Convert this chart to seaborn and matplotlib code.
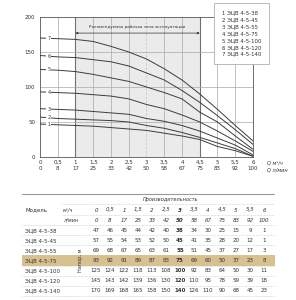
import matplotlib
matplotlib.use("Agg")
from matplotlib import pyplot as plt
from matplotlib.patches import Rectangle
import numpy as np
import pandas as pd
import seaborn as sns

# flow (m3/h and l/min) and head (m) per pump model
q_m3h = [0, 0.5, 1, 1.5, 2, 2.5, 3, 3.5, 4, 4.5, 5, 5.5, 6]
q_lmin = [0, 8, 17, 25, 33, 42, 50, 58, 67, 75, 83, 92, 100]
models = ["ЭЦВ 4-5-38", "ЭЦВ 4-5-45", "ЭЦВ 4-5-55", "ЭЦВ 4-5-75",
          "ЭЦВ 4-5-100", "ЭЦВ 4-5-120", "ЭЦВ 4-5-140"]
head_38 = [47, 46, 45, 44, 42, 40, 38, 34, 30, 25, 15, 9, 1]
head_45 = [57, 55, 54, 53, 52, 50, 45, 41, 35, 28, 20, 12, 1]
head_55 = [69, 68, 67, 65, 63, 61, 55, 51, 45, 37, 27, 17, 3]
head_75 = [93, 92, 91, 89, 87, 83, 75, 69, 60, 50, 37, 23, 8]
head_100 = [125, 124, 122, 118, 113, 108, 100, 92, 83, 64, 50, 30, 11]
head_120 = [145, 143, 142, 139, 136, 130, 120, 110, 95, 78, 59, 39, 18]
head_140 = [170, 169, 168, 165, 158, 150, 140, 126, 110, 90, 68, 45, 23]
heads = [head_38, head_45, head_55, head_75, head_100, head_120, head_140]
zone = (1, 4.5)
nominal_q = 3
highlight_model = "ЭЦВ 4-5-75"


def fmt(v):
    return str(int(v)) if float(v).is_integer() else str(v).replace(".", ",")


sns.set_style("white")
plt.rcParams["font.family"] = ["DejaVu Sans"]
LINE = "#3c3c3c"
GRID = "#a8a8a8"
TXT = "#333333"

fig = plt.figure(figsize=(2.96, 3.0), dpi=100)
ax = fig.add_axes([0.1351, 0.4767, 0.7196, 0.4667])

# recommended zone + grid
ax.axvspan(*zone, color="#ebebeb", lw=0, zorder=0)
for x in q_m3h[1:]:
    if x == nominal_q:
        ax.axvline(x, color="#c8c8c8", lw=0.6, ls=(0, (3, 2)), zorder=1)
    elif x in zone:
        ax.axvline(x, color="#707070", lw=0.8, zorder=1)
    else:
        ax.axvline(x, color=GRID, lw=0.5, zorder=1)
for y in [50, 100, 150]:
    ax.axhline(y, color=GRID, lw=0.5, zorder=1)

labels = [f"{i + 1} {m}" for i, m in enumerate(models)]
df = pd.DataFrame(
    [(q, h, lab) for lab, hs in zip(labels, heads) for q, h in zip(q_m3h, hs)],
    columns=["q", "head", "label"],
)
sns.lineplot(data=df, x="q", y="head", hue="label", hue_order=labels,
             palette=[LINE] * len(labels), lw=0.7, ax=ax, zorder=3)

# curve numbers on the left
for i, hs in enumerate(heads):
    ax.text(0.25, np.interp(0.25, q_m3h, hs), str(i + 1), fontsize=3.5,
            color=TXT, ha="center", va="center", zorder=4,
            bbox=dict(facecolor="white", edgecolor="none", pad=0.6))

# recommended zone arrow
ax.annotate("", xy=(zone[0], 177), xytext=(zone[1], 177),
            arrowprops=dict(arrowstyle="<|-|>", lw=0.5, color=TXT,
                            mutation_scale=3, shrinkA=0, shrinkB=0))
ax.text(sum(zone) / 2, 185, "Рекомендуемая рабочая зона эксплуатации",
        fontsize=3.0, ha="center", va="center", color=TXT)

ax.set_xlim(0, 6)
ax.set_ylim(0, 200)
ax.set_xticks(q_m3h)
ax.set_xticklabels([f"{fmt(q)}\n{l}" for q, l in zip(q_m3h, q_lmin)],
                   linespacing=1.3)
ax.set_yticks([0, 50, 100, 150, 200])
ax.set_yticks(np.arange(0, 201, 10), minor=True)
ax.tick_params(axis="both", which="both", labelsize=4, colors="#555555",
               labelcolor=TXT, width=0.5, pad=1.5)
ax.tick_params(axis="y", which="major", direction="inout", length=4)
ax.tick_params(axis="y", which="minor", direction="inout", length=3)
ax.tick_params(axis="x", which="major", length=0, pad=2)
ax.set_xlabel("")
ax.set_ylabel("")
for s in ax.spines.values():
    s.set_color("#555555")
    s.set_linewidth(0.6)
ax.annotate("Q м³/ч", xy=(1, 0), xycoords="axes fraction", xytext=(10, -4.3),
            textcoords="offset points", fontsize=3.6, va="center", color=TXT,
            style="italic")
ax.annotate("Q л/мин", xy=(1, 0), xycoords="axes fraction", xytext=(10, -9.4),
            textcoords="offset points", fontsize=3.6, va="center", color=TXT,
            style="italic")

handles, labs = ax.get_legend_handles_labels()
leg = ax.legend(handles, labs, loc="upper left", bbox_to_anchor=(0.723, 0.99),
                bbox_transform=fig.transFigure, borderaxespad=0, frameon=True,
                fancybox=False, edgecolor="#b0b0b0", framealpha=1, fontsize=3.9,
                handlelength=0, handletextpad=0, labelspacing=0.34, borderpad=1.4)
leg.get_frame().set_linewidth(0.6)
for t in leg.get_texts():
    t.set_color(TXT)

# performance table
tax = fig.add_axes([0, 0, 1, 0.44])
tax.set_axis_off()
tax.set_xlim(-96 / 14, 200 / 14)
tax.set_ylim(90 / 10.1, -42 / 10.1)
x_left, x_right, x_unit = -5.29, 12.7, -2.4
tax.plot([x_left, x_right], [-1.58, -1.58], color="#9a9a9a", lw=0.8)
tax.text(3.36, -1.05, "Производительность", fontsize=3.6, style="italic",
         ha="left", va="center", color=TXT)
tax.plot([x_unit, x_right], [-0.55, -0.55], color="#c8c8c8", lw=0.5, ls=(0, (1, 1)))
tax.text(-5.07, 0, "Модель", fontsize=4, ha="left", va="center", color=TXT)
tax.text(x_unit + 0.05, 0, "м³/ч", fontsize=3.6, style="italic", ha="left",
         va="center", color=TXT)
tax.text(x_unit + 0.05, 1, "л/мин", fontsize=3.6, style="italic", ha="left",
         va="center", color=TXT)
for j, (q, l) in enumerate(zip(q_m3h, q_lmin)):
    w = "bold" if q == nominal_q else "normal"
    tax.text(j, 0, fmt(q), fontsize=4, style="italic", weight=w, ha="center",
             va="center", color=TXT)
    tax.text(j, 1, str(l), fontsize=4, style="italic", weight=w, ha="center",
             va="center", color=TXT)
tax.plot([x_unit, x_right], [0.5, 0.5], color="#c8c8c8", lw=0.5, ls=(0, (1, 1)))
tax.plot([x_left, x_right], [1.5, 1.5], color="#c8c8c8", lw=0.5, ls=(0, (1, 1)))

for i, (m, hs) in enumerate(zip(models, heads)):
    r = i + 2
    if m == highlight_model:
        tax.add_patch(Rectangle((x_left, r - 0.5), x_right - x_left + 0.1, 1,
                                color="#d9c08f", lw=0, zorder=0))
    tax.text(-5.07, r, m, fontsize=4, ha="left", va="center", color=TXT)
    for j, h in enumerate(hs):
        w = "bold" if q_m3h[j] == nominal_q else "normal"
        tax.text(j, r, str(h), fontsize=4, weight=w, ha="center", va="center",
                 color=TXT)
    tax.plot([x_left, x_right], [r + 0.5, r + 0.5], color="#c8c8c8", lw=0.5,
             ls=(0, (1, 1)))
tax.text(-1.14, 4.95, "Напор, м", fontsize=3.6, rotation=90, ha="center",
         va="center", color=TXT)

fig.savefig("out.png", dpi=100)
